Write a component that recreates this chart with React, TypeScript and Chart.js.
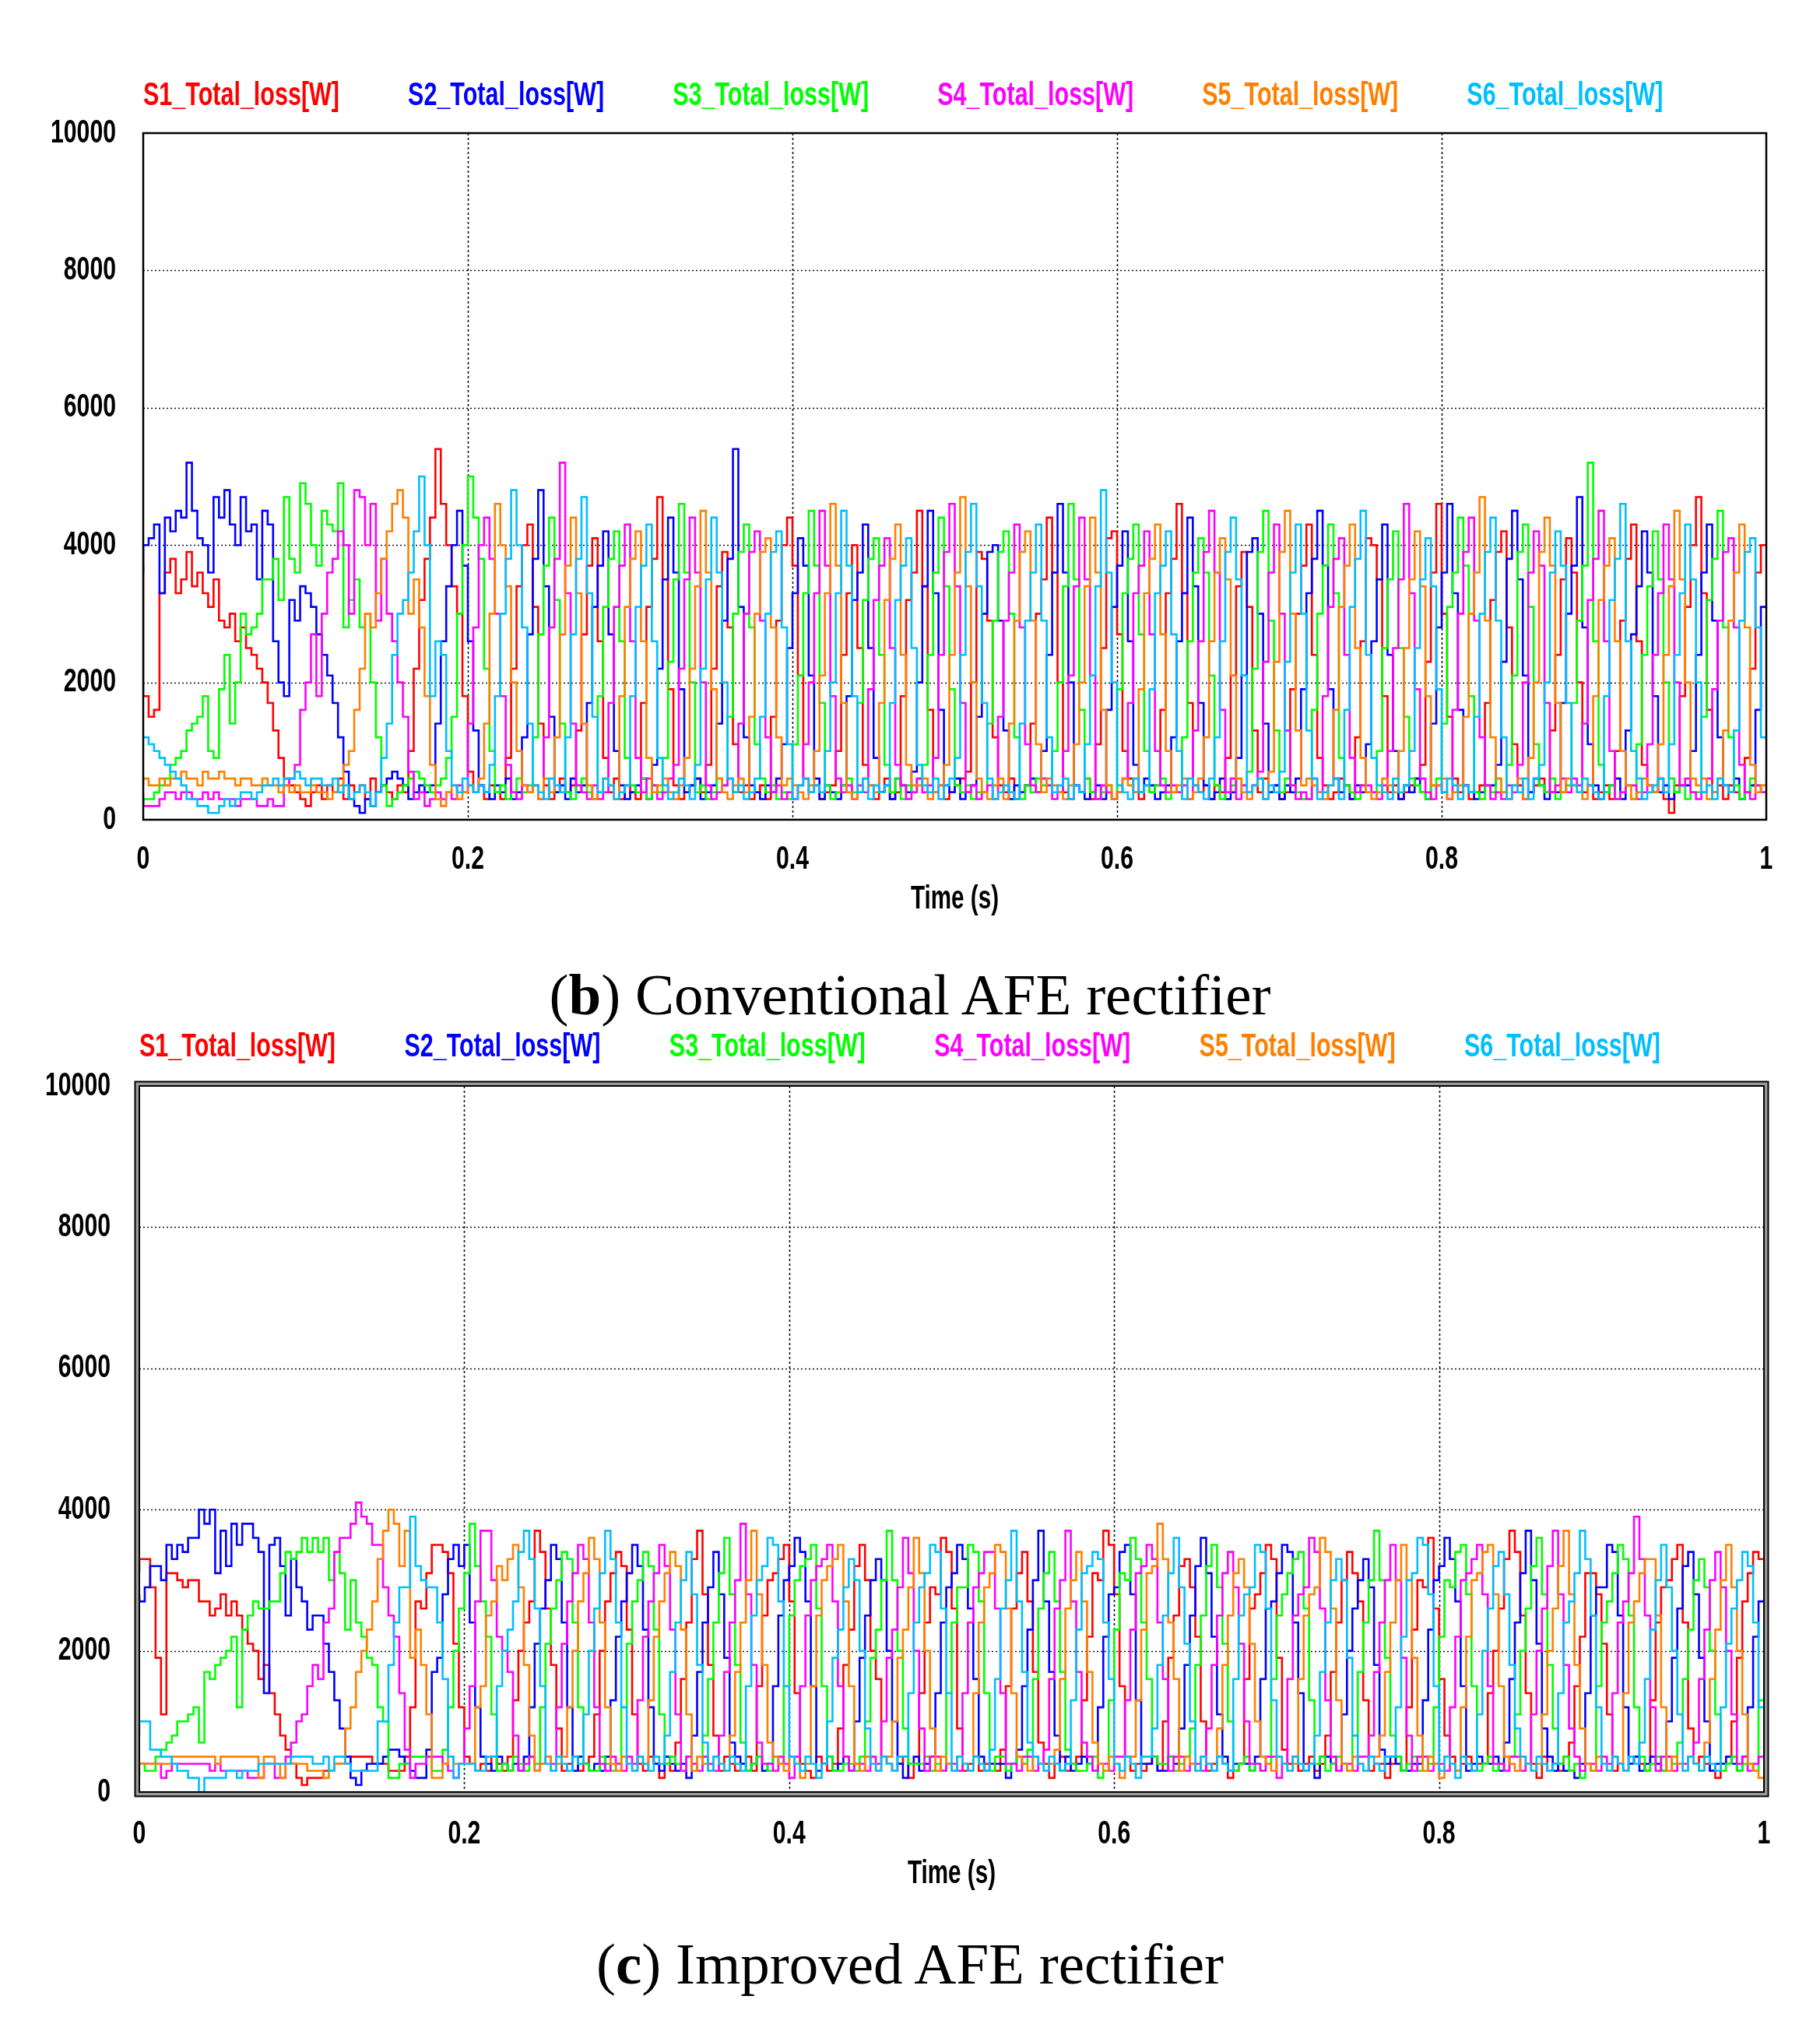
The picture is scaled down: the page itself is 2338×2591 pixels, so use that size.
import React, { useEffect, useRef } from 'react';
import { Chart, registerables } from 'chart.js';

Chart.register(...registerables);

// ---------------- data ----------------
// Sampled switch-loss traces, one sample every 1/300 s from 0 s to 1 s (301 samples).
// Values are in units of 100 W (e.g. 42 -> 4200 W).
const SAMPLE_RATE_HZ = 300;

const SERIES_LABELS = ['S1_Total_loss[W]', 'S2_Total_loss[W]', 'S3_Total_loss[W]', 'S4_Total_loss[W]', 'S5_Total_loss[W]', 'S6_Total_loss[W]'];
const SERIES_COLORS = ['#ff0000', '#0000ff', '#00ff00', '#ff00ff', '#ff8000', '#00bfff'];

const X_MIN = 0;
const X_MAX = 1;
const X_STEP = 0.2;
const Y_MIN = 0;
const Y_MAX = 10000;
const Y_STEP = 2000;
const X_TITLE = 'Time (s)';

// ----- (b) Conventional AFE rectifier -----
const CONV_S1 = [
  37, 18, 15, 16, 33, 36, 38, 33, 35, 39, 34, 36,
  33, 31, 35, 29, 28, 30, 26, 28, 25, 24, 22, 20,
  17, 13, 9, 6, 5, 4, 3, 2, 4, 5, 3, 5,
  4, 6, 3, 5, 4, 5, 3, 6, 4, 5, 4, 3,
  5, 4, 10, 22, 32, 38, 44, 54, 46, 40, 34, 30,
  18, 7, 4, 5, 3, 5, 4, 3, 9, 22, 34, 40,
  43, 31, 14, 5, 3, 4, 6, 4, 5, 13, 27, 37,
  41, 26, 9, 4, 6, 3, 5, 4, 3, 17, 31, 38,
  47, 35, 19, 5, 3, 4, 5, 6, 4, 8, 22, 34,
  39, 28, 11, 4, 5, 3, 4, 5, 3, 15, 29, 40,
  44, 37, 21, 6, 4, 5, 3, 4, 5, 10, 24, 33,
  40, 25, 8, 5, 3, 4, 6, 3, 4, 18, 32, 36,
  45, 34, 16, 4, 5, 3, 4, 5, 6, 7, 20, 39,
  38, 29, 12, 5, 4, 6, 3, 4, 5, 14, 30, 35,
  44, 36, 20, 4, 3, 5, 4, 6, 3, 11, 25, 41,
  42, 27, 10, 6, 4, 3, 5, 4, 5, 16, 33, 38,
  46, 33, 17, 5, 4, 5, 3, 5, 4, 9, 21, 34,
  39, 31, 13, 4, 6, 4, 5, 3, 4, 19, 30, 37,
  43, 24, 9, 5, 3, 4, 6, 5, 3, 12, 26, 41,
  40, 35, 18, 4, 5, 3, 4, 5, 6, 8, 23, 36,
  46, 30, 15, 6, 4, 5, 3, 4, 5, 17, 32, 39,
  42, 28, 11, 5, 3, 4, 5, 6, 4, 13, 24, 35,
  41, 36, 20, 4, 5, 3, 4, 5, 3, 10, 29, 38,
  43, 26, 8, 5, 4, 6, 3, 1, 5, 18, 31, 40,
  47, 33, 16, 4, 5, 3, 5, 4, 3, 9, 22, 36,
  40,
];

const CONV_S2 = [
  36, 40, 41, 43, 33, 44, 42, 45, 44, 52, 45, 41,
  40, 36, 47, 44, 48, 43, 40, 47, 42, 43, 35, 45,
  43, 26, 20, 18, 32, 29, 34, 33, 31, 27, 24, 21,
  17, 12, 7, 3, 2, 1, 3, 2, 4, 5, 6, 7,
  6, 5, 3, 4, 5, 4, 5, 14, 26, 34, 40, 45,
  37, 26, 13, 5, 4, 3, 5, 4, 6, 3, 4, 12,
  27, 38, 48, 34, 15, 4, 5, 3, 6, 4, 5, 17,
  31, 37, 42, 27, 10, 5, 3, 4, 5, 6, 3, 8,
  22, 35, 44, 36, 19, 4, 5, 6, 3, 4, 5, 14,
  29, 38, 54, 31, 12, 5, 4, 3, 5, 4, 6, 11,
  25, 33, 41, 37, 21, 6, 3, 5, 4, 3, 5, 18,
  32, 36, 43, 25, 9, 4, 5, 3, 6, 5, 4, 7,
  20, 34, 45, 33, 16, 5, 4, 6, 3, 4, 5, 15,
  30, 39, 40, 29, 13, 3, 5, 4, 5, 6, 4, 10,
  24, 36, 46, 36, 20, 5, 4, 3, 4, 5, 3, 16,
  31, 37, 42, 26, 8, 4, 6, 5, 3, 4, 5, 12,
  26, 33, 44, 34, 17, 5, 3, 4, 6, 3, 4, 9,
  21, 39, 41, 30, 14, 4, 5, 3, 5, 4, 6, 19,
  33, 38, 45, 37, 19, 6, 4, 5, 3, 5, 4, 11,
  26, 35, 43, 24, 10, 3, 5, 4, 6, 4, 3, 14,
  28, 36, 46, 33, 16, 5, 4, 3, 4, 5, 5, 8,
  23, 38, 45, 35, 21, 4, 6, 5, 3, 4, 4, 17,
  30, 37, 47, 28, 11, 5, 3, 4, 5, 6, 3, 13,
  27, 34, 42, 36, 18, 4, 5, 3, 4, 5, 5, 10,
  24, 36, 43, 29, 12, 5, 4, 6, 3, 4, 5, 16,
  31,
];

const CONV_S3 = [
  2, 3, 3, 4, 5, 6, 8, 9, 10, 13, 14, 15,
  18, 10, 9, 19, 24, 14, 20, 30, 27, 28, 30, 35,
  35, 38, 32, 47, 38, 36, 49, 46, 40, 37, 45, 43,
  42, 49, 28, 32, 35, 28, 30, 20, 12, 5, 2, 3,
  4, 5, 6, 7, 6, 5, 4, 5, 6, 9, 15, 30,
  40, 50, 44, 38, 22, 10, 4, 5, 3, 4, 6, 4,
  5, 12, 27, 37, 44, 32, 14, 4, 3, 5, 6, 4,
  3, 18, 31, 38, 42, 26, 9, 5, 4, 6, 3, 5,
  4, 9, 23, 35, 46, 36, 20, 4, 5, 3, 4, 6,
  5, 15, 30, 39, 43, 28, 11, 6, 4, 5, 3, 4,
  3, 11, 21, 33, 45, 37, 17, 5, 3, 4, 5, 6,
  4, 17, 32, 38, 41, 24, 8, 4, 6, 3, 5, 4,
  6, 8, 24, 36, 44, 34, 19, 5, 4, 5, 3, 4,
  4, 14, 29, 39, 42, 30, 12, 3, 5, 4, 6, 5,
  5, 10, 20, 34, 46, 35, 16, 6, 4, 3, 4, 5,
  3, 19, 33, 38, 43, 27, 10, 4, 5, 6, 3, 4,
  4, 12, 26, 36, 41, 36, 21, 5, 3, 4, 5, 6,
  5, 7, 22, 39, 45, 29, 13, 4, 6, 5, 4, 3,
  3, 16, 30, 37, 43, 33, 9, 5, 4, 3, 5, 4,
  4, 10, 25, 35, 42, 25, 15, 6, 5, 4, 3, 5,
  6, 14, 31, 36, 44, 37, 18, 4, 3, 5, 4, 6,
  4, 8, 21, 39, 43, 31, 11, 5, 4, 6, 3, 4,
  5, 17, 29, 37, 52, 26, 8, 4, 5, 3, 4, 5,
  3, 11, 24, 34, 42, 35, 20, 6, 4, 5, 3, 4,
  4, 15, 32, 38, 45, 28, 12, 5, 3, 4, 6, 5,
  4,
];

const CONV_S4 = [
  4, 2, 2, 2, 3, 4, 4, 3, 4, 4, 3, 3,
  4, 3, 4, 3, 3, 3, 2, 3, 3, 3, 2, 2,
  3, 2, 2, 5, 6, 8, 16, 20, 27, 18, 30, 36,
  38, 42, 40, 30, 48, 47, 40, 46, 29, 38, 30, 26,
  20, 15, 7, 3, 4, 2, 3, 4, 3, 4, 3, 5,
  4, 14, 28, 40, 44, 38, 30, 18, 8, 4, 3, 5,
  4, 5, 3, 12, 28, 38, 52, 33, 14, 5, 4, 3,
  5, 3, 4, 17, 31, 37, 43, 26, 9, 4, 6, 5,
  3, 4, 6, 8, 22, 35, 44, 36, 20, 5, 3, 4,
  5, 6, 4, 14, 30, 39, 42, 29, 12, 4, 5, 3,
  4, 3, 5, 11, 20, 33, 45, 37, 18, 6, 4, 5,
  3, 5, 4, 19, 32, 37, 41, 25, 8, 5, 3, 4,
  6, 4, 5, 9, 24, 39, 46, 34, 17, 4, 5, 3,
  4, 5, 3, 15, 29, 36, 43, 28, 11, 5, 4, 6,
  5, 3, 4, 10, 21, 34, 44, 35, 21, 3, 5, 4,
  3, 4, 6, 17, 33, 37, 42, 27, 10, 5, 4, 5,
  4, 5, 3, 13, 26, 39, 45, 36, 16, 4, 6, 3,
  5, 4, 5, 7, 23, 36, 43, 30, 13, 5, 3, 4,
  3, 6, 4, 18, 31, 38, 41, 24, 9, 4, 5, 5,
  4, 3, 5, 10, 25, 35, 46, 33, 19, 6, 4, 3,
  5, 4, 3, 16, 30, 39, 44, 29, 12, 5, 3, 4,
  3, 5, 4, 8, 20, 36, 42, 37, 17, 4, 5, 6,
  4, 6, 5, 14, 32, 38, 45, 26, 10, 3, 4, 5,
  5, 3, 4, 11, 24, 33, 43, 35, 20, 5, 6, 4,
  3, 4, 6, 19, 29, 39, 41, 28, 8, 4, 3, 5,
  4,
];

const CONV_S5 = [
  5, 6, 5, 5, 6, 5, 6, 6, 7, 6, 6, 5,
  7, 6, 6, 7, 6, 6, 5, 6, 6, 5, 5, 6,
  5, 5, 4, 5, 4, 5, 4, 4, 5, 4, 4, 3,
  4, 5, 8, 10, 16, 22, 30, 28, 33, 38, 42, 46,
  48, 44, 30, 35, 28, 18, 8, 3, 2, 4, 5, 3,
  4, 5, 4, 6, 14, 30, 46, 40, 34, 20, 10, 5,
  4, 5, 3, 6, 4, 12, 27, 37, 44, 33, 14, 5,
  3, 4, 6, 5, 3, 18, 31, 38, 42, 26, 9, 4,
  5, 6, 4, 3, 5, 9, 22, 34, 45, 36, 19, 6,
  4, 3, 5, 6, 4, 15, 30, 39, 41, 28, 12, 5,
  6, 5, 4, 3, 5, 10, 21, 33, 46, 37, 17, 4,
  3, 4, 6, 5, 4, 17, 32, 38, 43, 24, 8, 5,
  5, 6, 3, 4, 5, 8, 24, 36, 47, 34, 20, 6,
  4, 3, 5, 6, 3, 14, 29, 39, 42, 29, 11, 4,
  6, 5, 4, 3, 5, 11, 20, 34, 44, 36, 16, 5,
  3, 4, 6, 5, 4, 19, 33, 38, 43, 27, 10, 4,
  5, 6, 3, 4, 6, 12, 26, 36, 41, 35, 21, 6,
  4, 3, 5, 6, 3, 7, 23, 39, 45, 30, 13, 5,
  6, 5, 4, 3, 5, 16, 31, 37, 43, 25, 9, 4,
  3, 4, 6, 5, 4, 10, 25, 35, 42, 34, 18, 5,
  5, 6, 3, 4, 5, 15, 30, 36, 47, 29, 12, 6,
  4, 3, 5, 6, 3, 9, 20, 39, 44, 37, 17, 4,
  6, 5, 4, 3, 5, 18, 32, 37, 41, 26, 10, 5,
  3, 4, 6, 5, 4, 11, 24, 34, 45, 35, 20, 6,
  5, 6, 3, 4, 6, 13, 29, 36, 43, 28, 8, 4,
  5,
];

const CONV_S6 = [
  12, 12, 11, 10, 9, 8, 7, 6, 5, 3, 3, 2,
  2, 1, 1, 2, 3, 2, 3, 4, 4, 3, 4, 5,
  5, 6, 5, 6, 6, 7, 6, 5, 6, 6, 5, 5,
  6, 4, 5, 3, 4, 5, 4, 2, 4, 9, 14, 24,
  30, 32, 36, 42, 50, 40, 18, 26, 24, 10, 5, 4,
  6, 5, 4, 5, 4, 8, 18, 30, 38, 48, 40, 28,
  14, 5, 4, 3, 6, 5, 4, 12, 27, 38, 47, 33,
  15, 4, 6, 5, 3, 4, 5, 18, 31, 37, 43, 26,
  9, 5, 3, 4, 6, 5, 3, 8, 22, 35, 44, 36,
  20, 6, 4, 5, 3, 4, 6, 15, 30, 39, 42, 28,
  11, 3, 5, 6, 4, 5, 4, 10, 20, 33, 45, 37,
  18, 4, 6, 3, 5, 4, 5, 17, 32, 37, 41, 25,
  8, 5, 4, 6, 3, 5, 6, 9, 24, 39, 46, 34,
  17, 6, 3, 4, 5, 4, 3, 14, 29, 36, 43, 29,
  12, 4, 5, 6, 3, 5, 4, 11, 21, 34, 48, 36,
  20, 5, 4, 3, 6, 4, 5, 19, 33, 37, 42, 27,
  10, 3, 6, 5, 4, 3, 6, 12, 26, 39, 44, 35,
  21, 4, 5, 6, 3, 5, 4, 7, 23, 36, 43, 30,
  13, 6, 3, 4, 5, 6, 3, 16, 31, 38, 45, 24,
  9, 5, 4, 3, 6, 4, 5, 10, 25, 35, 41, 34,
  19, 4, 6, 5, 3, 5, 4, 15, 30, 39, 44, 29,
  12, 3, 5, 4, 6, 3, 6, 8, 20, 36, 42, 37,
  17, 5, 4, 6, 5, 4, 3, 18, 32, 38, 46, 26,
  10, 6, 3, 4, 5, 6, 4, 11, 24, 33, 43, 35,
  20, 4, 5, 3, 6, 5, 4, 13, 29, 39, 41, 28,
  12,
];

// ----- (c) Improved AFE rectifier -----
const IMPR_S1 = [
  31, 33, 33, 29, 19, 11, 31, 31, 30, 29,
  30, 30, 27, 27, 25, 26, 28, 25, 27, 25,
  23, 21, 20, 16, 18, 14, 11, 8, 6, 4,
  2, 1, 2, 2, 2, 3, 3, 4, 4, 4,
  5, 5, 5, 5, 4, 4, 4, 3, 3, 3,
  5, 12, 27, 26, 31, 35, 35, 34, 31, 21,
  12, 5, 4, 3, 4, 3, 5, 4, 3, 5,
  13, 20, 24, 27, 37, 34, 26, 18, 9, 3, 4, 5, 3, 4, 5,
  11, 20, 27, 31, 34, 32, 23, 11, 4, 3, 5, 4, 2, 4, 3,
  7, 16, 24, 33, 37, 28, 18, 8, 3, 5, 4, 3, 4, 5, 3,
  15, 25, 30, 31, 33, 35, 27, 14, 4, 3, 2, 5, 4, 3, 4,
  9, 18, 23, 32, 35, 30, 20, 16, 5, 4, 3, 4, 5, 2, 4,
  14, 24, 29, 28, 36, 34, 26, 9, 3, 4, 5, 3, 4, 4, 3,
  6, 15, 26, 31, 34, 27, 17, 7, 4, 2, 4, 5, 3, 4, 5,
  13, 22, 31, 30, 37, 35, 28, 15, 5, 3, 4, 3, 4, 5, 3,
  10, 19, 25, 32, 33, 29, 22, 10, 3, 4, 5, 4, 2, 3, 4,
  16, 26, 28, 31, 35, 33, 19, 6, 4, 5, 3, 4, 5, 3, 4,
  8, 17, 24, 30, 34, 31, 27, 13, 3, 4, 4, 2, 4, 5, 3,
  12, 23, 30, 29, 36, 26, 16, 8, 5, 3, 4, 5, 3, 4, 4,
  14, 20, 26, 33, 37, 34, 25, 14, 4, 2, 5, 3, 4, 3, 5,
  7, 15, 22, 31, 31, 28, 21, 11, 3, 4, 3, 4, 5, 4, 3,
  13, 24, 29, 30, 33, 35, 24, 9, 4, 5, 4, 3, 2, 4, 4,
  10, 19, 27, 31, 34, 33,
];

const IMPR_S2 = [
  28, 27, 29, 32, 32, 30, 35, 33, 35, 34,
  36, 36, 40, 38, 40, 31, 37, 32, 38, 35,
  38, 38, 36, 34, 14, 35, 36, 32, 25, 33,
  29, 27, 23, 25, 25, 21, 17, 13, 9, 5,
  2, 1, 3, 4, 4, 4, 5, 6, 6, 5,
  4, 3, 2, 2, 6, 17, 19, 28, 33, 35,
  32, 35, 24, 12, 5, 4, 3, 5, 4, 3,
  4, 3, 5, 12, 21, 26, 30, 35, 33, 24, 12, 3, 5, 4, 3,
  4, 3, 5, 13, 22, 27, 31, 35, 32, 23, 12, 4, 3, 5, 4,
  3, 4, 2, 8, 17, 24, 29, 34, 28, 19, 7, 5, 4, 3, 4,
  5, 3, 4, 15, 25, 30, 32, 36, 34, 27, 15, 3, 4, 5, 3,
  4, 5, 3, 10, 19, 25, 30, 33, 30, 20, 10, 4, 2, 4, 5,
  3, 4, 5, 14, 24, 29, 31, 35, 33, 26, 16, 5, 3, 4, 4,
  4, 2, 4, 6, 15, 23, 30, 37, 27, 17, 8, 3, 5, 3, 4,
  5, 4, 3, 12, 22, 28, 29, 34, 35, 28, 13, 4, 4, 5, 3,
  3, 5, 4, 9, 18, 25, 32, 36, 31, 22, 11, 5, 3, 4, 4,
  4, 3, 5, 16, 26, 27, 31, 35, 34, 24, 14, 3, 4, 2, 5,
  5, 4, 3, 11, 20, 26, 30, 33, 29, 18, 6, 4, 5, 4, 3,
  3, 4, 4, 13, 23, 30, 32, 36, 33, 27, 15, 3, 4, 5, 4,
  4, 5, 3, 7, 16, 24, 31, 37, 30, 21, 9, 5, 3, 4, 3,
  3, 2, 4, 14, 25, 29, 29, 35, 34, 25, 12, 4, 5, 3, 4,
  5, 4, 3, 10, 19, 26, 32, 34, 28, 19, 10, 3, 4, 4, 5,
  4, 3, 5, 12, 22, 27,
];

const IMPR_S3 = [
  2, 4, 3, 3, 5, 6, 7, 8, 10, 10,
  11, 12, 7, 17, 16, 18, 19, 20, 22, 12,
  23, 25, 27, 26, 26, 27, 27, 31, 34, 33,
  34, 36, 34, 36, 34, 36, 30, 34, 31, 23,
  30, 24, 22, 19, 18, 12, 10, 2, 2, 4,
  4, 5, 5, 5, 5, 3, 3, 6, 12, 20,
  26, 31, 38, 32, 27, 22, 11, 3, 4, 3,
  5, 4, 3, 5, 4, 12, 21, 26, 30, 34, 33, 24, 12, 4, 3,
  3, 5, 4, 3, 4, 12, 21, 27, 30, 34, 32, 23, 11, 4, 5,
  4, 3, 5, 4, 3, 8, 16, 24, 31, 36, 28, 18, 7, 3, 4,
  5, 4, 3, 5, 4, 15, 25, 30, 32, 33, 35, 26, 15, 5, 3,
  3, 4, 4, 3, 5, 10, 19, 23, 30, 37, 30, 20, 9, 4, 4,
  4, 5, 3, 4, 3, 14, 24, 29, 29, 35, 34, 27, 14, 3, 5,
  5, 3, 4, 5, 4, 6, 16, 26, 31, 34, 27, 17, 6, 4, 3,
  3, 4, 5, 2, 3, 13, 23, 31, 30, 36, 33, 24, 16, 5, 4,
  4, 5, 3, 4, 5, 9, 18, 25, 32, 35, 29, 21, 10, 3, 4,
  5, 3, 4, 3, 4, 16, 25, 28, 31, 33, 34, 26, 13, 4, 5,
  3, 4, 5, 4, 3, 8, 17, 24, 30, 37, 30, 19, 8, 5, 3,
  4, 5, 3, 5, 4, 12, 22, 30, 29, 34, 35, 28, 15, 3, 4,
  5, 3, 4, 3, 5, 11, 20, 26, 32, 36, 28, 18, 9, 4, 5,
  3, 4, 2, 4, 3, 15, 24, 27, 31, 35, 33, 25, 12, 5, 3,
  4, 5, 3, 5, 4, 7, 16, 23, 30, 33, 29, 20, 11, 3, 4,
  5, 3, 4, 4, 3, 13,
];

const IMPR_S4 = [
  4, 4, 4, 4, 4, 2, 3, 4, 4, 4,
  4, 4, 4, 4, 3, 4, 3, 3, 3, 3,
  3, 2, 2, 2, 4, 4, 2, 2, 5, 7,
  10, 11, 15, 18, 16, 24, 26, 34, 36, 36,
  38, 41, 39, 38, 35, 35, 29, 25, 22, 14,
  6, 2, 4, 4, 5, 5, 5, 4, 3, 2,
  4, 9, 15, 27, 37, 37, 30, 22, 20, 17,
  8, 3, 4, 5, 3, 4, 5, 4, 12, 21, 27, 31, 35, 33, 24,
  12, 4, 3, 5, 4, 3, 5, 4, 13, 22, 27, 31, 35, 32, 23,
  11, 3, 5, 4, 3, 5, 4, 3, 8, 17, 24, 30, 38, 28, 18,
  7, 4, 4, 3, 5, 4, 2, 5, 15, 25, 30, 32, 33, 35, 27,
  15, 5, 3, 4, 4, 3, 5, 4, 10, 19, 23, 29, 36, 31, 20,
  9, 3, 5, 5, 3, 4, 4, 3, 14, 24, 29, 31, 34, 34, 26,
  14, 4, 4, 3, 5, 5, 3, 4, 6, 16, 26, 30, 37, 27, 17,
  7, 5, 3, 4, 4, 3, 5, 5, 13, 23, 31, 32, 35, 33, 24,
  16, 3, 5, 5, 3, 4, 4, 3, 9, 18, 25, 31, 34, 29, 21,
  10, 4, 4, 3, 5, 5, 2, 4, 16, 25, 28, 29, 36, 34, 26,
  13, 5, 3, 4, 4, 3, 5, 5, 8, 17, 24, 30, 35, 30, 19,
  8, 3, 5, 5, 3, 4, 4, 3, 12, 22, 30, 31, 33, 35, 28,
  15, 4, 4, 3, 5, 5, 3, 4, 11, 20, 26, 32, 37, 28, 18,
  9, 5, 3, 4, 4, 3, 5, 4, 14, 24, 27, 31, 39, 33, 25,
  12, 3, 5, 5, 3, 4, 4, 5, 7, 16, 23, 30, 34, 29, 20,
  11, 4, 5, 3, 4, 5,
];

const IMPR_S5 = [
  4, 4, 4, 4, 4, 4, 4, 5, 5, 5,
  5, 5, 5, 5, 5, 4, 5, 5, 5, 5,
  5, 5, 5, 2, 5, 5, 4, 2, 4, 4,
  4, 4, 3, 3, 3, 2, 3, 4, 4, 9,
  12, 17, 20, 23, 27, 33, 37, 40, 38, 32,
  37, 19, 23, 18, 11, 2, 2, 4, 5, 4,
  4, 4, 4, 12, 15, 25, 27, 32, 30, 33,
  35, 29, 18, 8, 3, 4, 5, 3, 4, 5, 12, 20, 27, 31, 36,
  33, 24, 12, 4, 3, 5, 4, 3, 5, 4, 13, 22, 27, 31, 34,
  32, 23, 11, 3, 5, 4, 3, 5, 4, 3, 8, 17, 24, 30, 37,
  28, 18, 7, 5, 4, 3, 5, 4, 2, 4, 15, 25, 30, 32, 33,
  35, 27, 15, 4, 3, 5, 4, 3, 5, 5, 10, 19, 23, 29, 36,
  31, 20, 9, 3, 5, 4, 3, 5, 4, 3, 14, 24, 29, 31, 35,
  34, 26, 14, 5, 4, 3, 5, 4, 3, 4, 6, 16, 26, 30, 34,
  27, 17, 7, 4, 3, 5, 4, 2, 5, 5, 13, 23, 31, 32, 38,
  33, 24, 16, 3, 5, 4, 3, 5, 4, 3, 9, 18, 25, 31, 33,
  29, 21, 10, 5, 4, 3, 5, 4, 3, 4, 16, 25, 28, 29, 36,
  34, 26, 13, 4, 3, 5, 4, 3, 5, 5, 8, 17, 24, 30, 35,
  30, 19, 8, 3, 5, 4, 2, 5, 4, 3, 12, 22, 30, 31, 34,
  35, 28, 15, 5, 4, 3, 5, 4, 3, 4, 11, 20, 26, 32, 37,
  28, 18, 9, 4, 3, 5, 4, 3, 5, 4, 14, 24, 27, 31, 33,
  33, 25, 12, 3, 5, 4, 3, 5, 4, 3, 7, 16, 23, 30, 35,
  29, 20, 11, 4, 3, 2,
];

const IMPR_S6 = [
  8, 10, 10, 6, 6, 5, 5, 4, 3, 3,
  2, 2, 0, 2, 2, 2, 2, 3, 3, 2,
  3, 3, 3, 4, 4, 4, 4, 4, 4, 5,
  5, 5, 5, 4, 4, 5, 3, 5, 5, 4,
  3, 3, 3, 3, 3, 10, 10, 18, 24, 29,
  29, 39, 32, 30, 29, 29, 24, 16, 5, 2,
  4, 4, 4, 3, 3, 5, 5, 15, 20, 23,
  27, 34, 37, 33, 26, 15, 4, 3, 5, 4, 3, 5, 4, 11, 20,
  26, 31, 37, 33, 24, 12, 4, 3, 5, 4, 3, 5, 4, 8, 17,
  24, 30, 34, 28, 18, 7, 3, 5, 4, 3, 5, 4, 3, 15, 25,
  30, 32, 36, 35, 27, 15, 5, 4, 3, 5, 4, 2, 4, 10, 19,
  23, 29, 33, 30, 20, 9, 4, 3, 5, 4, 3, 5, 5, 14, 24,
  29, 31, 35, 34, 26, 14, 3, 5, 4, 3, 5, 4, 3, 6, 16,
  26, 30, 37, 27, 17, 7, 5, 4, 3, 5, 4, 3, 4, 13, 23,
  31, 32, 34, 33, 24, 16, 4, 3, 5, 4, 2, 5, 5, 9, 18,
  25, 31, 36, 29, 21, 10, 3, 5, 4, 3, 5, 4, 3, 16, 25,
  28, 29, 35, 34, 26, 13, 5, 4, 3, 5, 4, 3, 4, 8, 17,
  24, 30, 33, 30, 19, 8, 4, 3, 5, 4, 3, 5, 5, 12, 22,
  30, 31, 36, 35, 28, 15, 3, 5, 4, 2, 5, 4, 3, 11, 20,
  26, 32, 34, 28, 18, 9, 5, 4, 3, 5, 4, 3, 4, 14, 24,
  27, 31, 37, 33, 25, 12, 4, 3, 5, 4, 3, 5, 4, 7, 16,
  23, 30, 35, 29, 20, 11, 3, 5, 4, 3, 5, 4, 3, 12, 21,
  26, 30, 34, 32, 24, 12,
];

const CONV_SERIES = [CONV_S1, CONV_S2, CONV_S3, CONV_S4, CONV_S5, CONV_S6];
const IMPR_SERIES = [IMPR_S1, IMPR_S2, IMPR_S3, IMPR_S4, IMPR_S5, IMPR_S6];

// ---------------- drawing helpers ----------------
const SANS = '"Liberation Sans Narrow", "Arial Narrow", "Liberation Sans", Arial, sans-serif';
const LABEL_FONT = 'bold 42px ' + SANS;

type Cfg = {
  padTop: number;
  padRight: number;
  yAxisWidth: number;
  xAxisHeight: number;
  yLabelGap: number;
  tickGap: number;
  titleGap: number;
  legendGap: number;
  doubleFrame: boolean;
};

function fmtX(v: number) {
  return String(Number(v.toFixed(1)));
}

function drawSqueezed(ctx: CanvasRenderingContext2D, text: string, x: number, y: number, align: CanvasTextAlign, sq: number) {
  ctx.save();
  ctx.translate(x, y);
  ctx.scale(sq, 1);
  ctx.textAlign = align;
  ctx.textBaseline = 'middle';
  ctx.fillText(text, 0, 0);
  ctx.restore();
}

function makeDecor(cfg: Cfg) {
  return {
    id: 'psimDecor',
    beforeDatasetsDraw(chart: any) {
      const { ctx, chartArea: a } = chart;
      const xs = chart.scales.x;
      const ys = chart.scales.y;
      ctx.save();
      ctx.strokeStyle = '#111';
      ctx.lineWidth = 1.6;
      ctx.setLineDash([2, 3]);
      for (const t of ys.ticks) {
        if (t.value <= Y_MIN || t.value >= Y_MAX) continue;
        const py = Math.round(ys.getPixelForValue(t.value)) + 0.5;
        ctx.beginPath();
        ctx.moveTo(a.left, py);
        ctx.lineTo(a.right, py);
        ctx.stroke();
      }
      ctx.setLineDash([3, 3]);
      for (const t of xs.ticks) {
        if (t.value <= X_MIN + 1e-6 || t.value >= X_MAX - 1e-6) continue;
        const px = Math.round(xs.getPixelForValue(t.value)) + 0.5;
        ctx.beginPath();
        ctx.moveTo(px, a.top);
        ctx.lineTo(px, a.bottom);
        ctx.stroke();
      }
      ctx.restore();
    },
    afterDatasetsDraw(chart: any) {
      const { ctx, chartArea: a } = chart;
      const w = a.right - a.left;
      const h = a.bottom - a.top;
      ctx.save();
      ctx.setLineDash([]);
      if (cfg.doubleFrame) {
        ctx.strokeStyle = '#9a9a9a';
        ctx.lineWidth = 5;
        ctx.strokeRect(a.left - 3, a.top - 3, w + 6, h + 6);
        ctx.strokeStyle = '#000';
        ctx.lineWidth = 2;
        ctx.strokeRect(a.left - 5.5, a.top - 5.5, w + 11, h + 11);
        ctx.strokeRect(a.left, a.top, w, h);
      } else {
        ctx.strokeStyle = '#000';
        ctx.lineWidth = 2.5;
        ctx.strokeRect(a.left, a.top, w, h);
      }
      ctx.restore();
    },
    afterDraw(chart: any) {
      const { ctx, chartArea: a } = chart;
      const xs = chart.scales.x;
      const ys = chart.scales.y;
      ctx.save();
      ctx.font = LABEL_FONT;
      const sqTick = Math.min(1, 84 / ctx.measureText('10000').width);
      const sqTitle = Math.min(1, 113 / ctx.measureText(X_TITLE).width);
      const sqLegend = Math.min(1, 252 / ctx.measureText(SERIES_LABELS[0]).width);
      ctx.fillStyle = '#000';
      for (const t of ys.ticks) {
        drawSqueezed(ctx, String(t.value), a.left - cfg.yLabelGap, ys.getPixelForValue(t.value), 'right', sqTick);
      }
      for (const t of xs.ticks) {
        drawSqueezed(ctx, fmtX(t.value), xs.getPixelForValue(t.value), a.bottom + cfg.tickGap, 'center', sqTick);
      }
      drawSqueezed(ctx, X_TITLE, (a.left + a.right) / 2, a.bottom + cfg.titleGap, 'center', sqTitle);
      const step = (a.right - a.left) * 0.1631;
      chart.data.datasets.forEach((ds: any, i: number) => {
        ctx.fillStyle = ds.borderColor;
        drawSqueezed(ctx, ds.label, a.left + i * step, a.top - cfg.legendGap, 'left', sqLegend);
      });
      ctx.restore();
    },
  };
}

function toPoints(hundredsOfWatts: number[]) {
  return hundredsOfWatts.map((v, i) => ({ x: i / SAMPLE_RATE_HZ, y: v * 100 }));
}

function LossChart(props: { series: number[][]; top: number; height: number; cfg: Cfg }) {
  const { series, top, height, cfg } = props;
  const ref = useRef<HTMLCanvasElement | null>(null);
  useEffect(() => {
    const canvas = ref.current;
    if (!canvas) return;
    const chart = new Chart(canvas, {
      type: 'line',
      data: {
        datasets: series.map((s, i) => ({
          label: SERIES_LABELS[i],
          data: toPoints(s),
          borderColor: SERIES_COLORS[i],
          backgroundColor: SERIES_COLORS[i],
          borderWidth: 2.6,
          pointRadius: 0,
          pointHoverRadius: 0,
          stepped: 'after',
          fill: false,
          tension: 0,
          order: 5 - i,
        })),
      },
      options: {
        responsive: false,
        maintainAspectRatio: false,
        animation: false,
        devicePixelRatio: 1,
        events: [],
        layout: { padding: { top: cfg.padTop, right: cfg.padRight, left: 0, bottom: 0 } },
        plugins: { legend: { display: false }, tooltip: { enabled: false }, title: { display: false } },
        scales: {
          x: {
            type: 'linear',
            min: X_MIN,
            max: X_MAX,
            ticks: { stepSize: X_STEP, display: false },
            grid: { display: false },
            border: { display: false },
            afterFit: (s: any) => { s.height = cfg.xAxisHeight; },
          },
          y: {
            type: 'linear',
            min: Y_MIN,
            max: Y_MAX,
            ticks: { stepSize: Y_STEP, display: false },
            grid: { display: false },
            border: { display: false },
            afterFit: (s: any) => { s.width = cfg.yAxisWidth; },
          },
        },
      } as any,
      plugins: [makeDecor(cfg)],
    } as any);
    return () => chart.destroy();
  }, []);
  return (
    <canvas
      ref={ref}
      width={2338}
      height={height}
      style={{ position: 'absolute', left: 0, top, width: 2338, height, display: 'block' }}
    />
  );
}

const CONV_CFG: Cfg = { padTop: 171, padRight: 69, yAxisWidth: 184, xAxisHeight: 147, yLabelGap: 35, tickGap: 51, titleGap: 102, legendGap: 48, doubleFrame: false };
const IMPR_CFG: Cfg = { padTop: 105, padRight: 72, yAxisWidth: 179, xAxisHeight: 147, yLabelGap: 37, tickGap: 54, titleGap: 105, legendGap: 50, doubleFrame: true };

function captionStyle(top: number): React.CSSProperties {
  return {
    position: 'absolute',
    left: 0,
    top,
    width: 2338,
    textAlign: 'center',
    font: '75px "Liberation Serif", "Times New Roman", serif',
    lineHeight: '75px',
    whiteSpace: 'nowrap',
    color: '#000',
  };
}

export default function App() {
  return (
    <div style={{ position: 'absolute', left: 0, top: 0, width: 2338, height: 2591, background: '#fff', overflow: 'hidden' }}>
      <LossChart series={CONV_SERIES} top={0} height={1200} cfg={CONV_CFG} />
      <div style={captionStyle(1240)}>(<b>b</b>) Conventional AFE rectifier</div>
      <LossChart series={IMPR_SERIES} top={1290} height={1159} cfg={IMPR_CFG} />
      <div style={captionStyle(2485)}>(<b>c</b>) Improved AFE rectifier</div>
    </div>
  );
}
